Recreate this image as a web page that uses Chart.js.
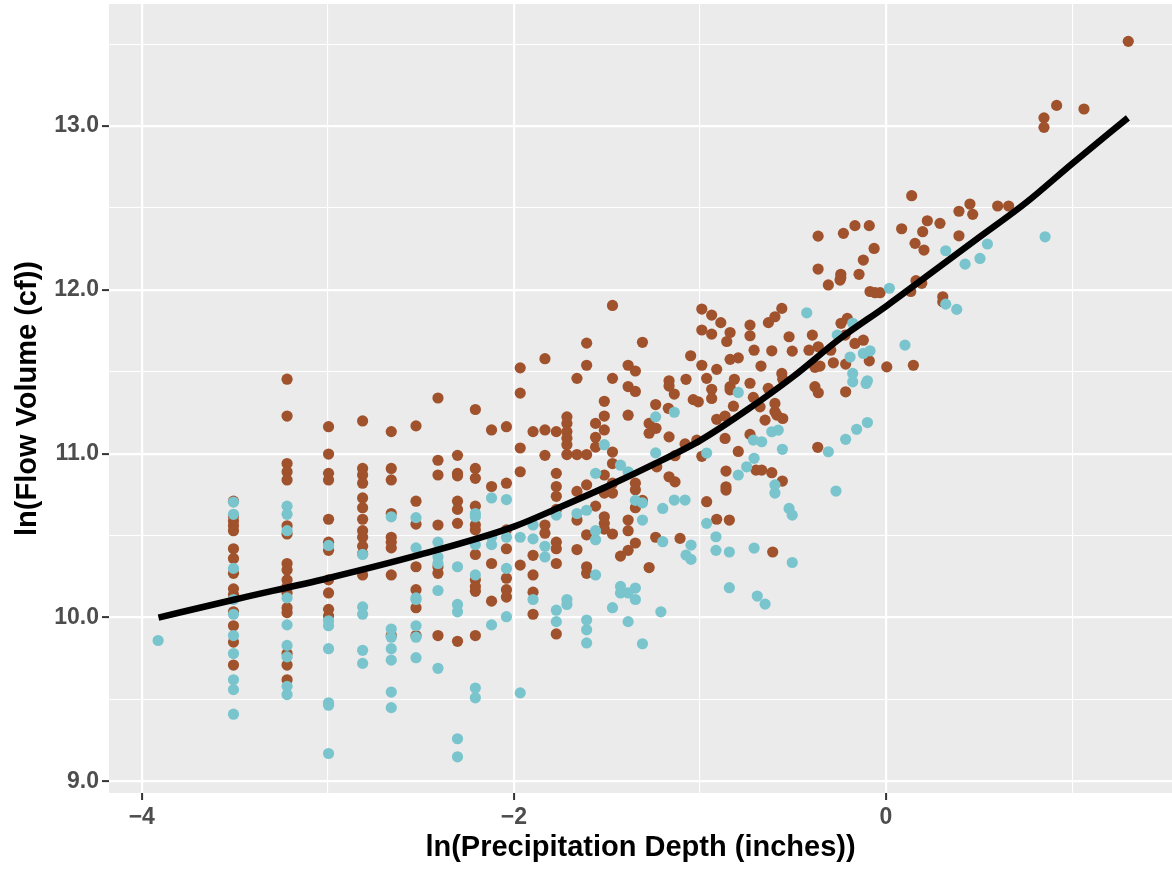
<!DOCTYPE html>
<html><head><meta charset="utf-8">
<script src="https://cdn.jsdelivr.net/npm/chart.js@4.4.0/dist/chart.umd.min.js"></script>
<style>html,body{margin:0;padding:0;background:#fff;}</style>
</head><body>
<canvas id="c" width="1172" height="871"></canvas>
<script>
// ---- data ----
const xTitle = 'ln(Precipitation Depth (inches))';
const yTitle = 'ln(Flow Volume (cf))';
const xMajorTicks = [-4, -2, 0];
const xTickLabels = ['\u22124', '\u22122', '0'];
const xMinorTicks = [-3, -1, 1];
const yMajorTicks = [9, 10, 11, 12, 13];
const yTickLabels = ['9.0', '10.0', '11.0', '12.0', '13.0'];
const yMinorTicks = [9.5, 10.5, 11.5, 12.5, 13.5];

// brown series: values on discrete precipitation columns
const brownColX = [-3.507, -3.219, -2.996, -2.813, -2.659, -2.526, -2.408, -2.303, -2.207, -2.120, -2.040, -1.966, -1.897, -1.833, -1.772, -1.715, -1.661, -1.609, -1.561, -1.514, -1.470, -1.427, -1.386, -1.347, -1.309, -1.273, -1.238];
const brownColY = [
  [10.71, 10.62, 10.59, 10.56, 10.53, 10.42, 10.36, 10.27, 10.175, 10.14, 10.035, 9.95, 9.85, 9.71],
  [11.455, 11.23, 10.94, 10.89, 10.84, 10.56, 10.51, 10.33, 10.29, 10.23, 10.19, 10.15, 10.06, 10.03, 9.78, 9.71, 9.62],
  [11.165, 10.998, 10.88, 10.84, 10.60, 10.46, 10.41, 10.23, 10.15, 10.05, 10.01],
  [11.20, 10.91, 10.87, 10.82, 10.73, 10.67, 10.60, 10.53, 10.49, 10.435, 10.39, 10.26],
  [11.135, 10.91, 10.84, 10.635, 10.49, 10.46, 10.425, 10.26, 9.89],
  [11.17, 10.71, 10.57, 10.31, 10.17, 10.06, 9.89],
  [11.34, 10.96, 10.87, 10.565, 10.31, 10.27, 9.89],
  [10.99, 10.88, 10.865, 10.71, 10.66, 10.575, 9.855],
  [11.27, 10.91, 10.85, 10.68, 10.565, 10.535, 10.385, 10.23, 10.19, 10.16, 9.89],
  [11.145, 10.80, 10.33, 10.10],
  [11.165, 10.82, 10.535, 10.42, 10.24, 10.17, 10.125],
  [11.524, 11.37, 11.035, 10.89, 10.32],
  [11.135, 10.38, 10.26, 10.155, 10.02],
  [11.58, 11.145, 10.99, 10.565, 10.515],
  [11.135, 10.88, 10.80, 10.74, 10.66, 10.46, 10.42, 10.33, 9.90],
  [11.225, 11.185, 11.135, 11.095, 11.055, 10.995],
  [11.46, 10.995, 10.77, 10.595, 10.415],
  [11.675, 11.54, 10.995, 10.81, 10.505, 10.31, 10.27],
  [11.185, 11.10, 11.04, 10.68],
  [11.32, 11.23, 11.145, 10.87, 10.76, 10.615, 10.575, 10.54],
  [11.905, 11.46, 11.01, 10.94, 10.82, 10.76, 10.51],
  [10.375],
  [11.54, 11.41, 11.235, 10.595, 10.53, 10.41],
  [11.505, 11.38, 10.82, 10.78, 10.67, 10.455],
  [11.68, 10.715],
  [11.185, 11.125, 10.305],
  [11.30, 10.49]
];
// brown series: remaining points
const brownX = [
  -0.99, -0.937, -0.888, -0.99, -0.937, -0.838, -0.856, -0.731, -0.731, -0.632,
  -0.597, -0.709, -0.614, -0.672, -1.05, -0.99, -0.91, -0.838, -0.794, -1.166,
  -1.166, -1.075, -0.964, -1.138, -1.036, -1.009, -0.937, -0.937, -0.838, -0.815,
  -0.838, -0.731, -0.82, -0.713, -0.677, -0.597, -0.65, -0.597, -1.17, -1.236,
  -1.166, -0.91, -0.865, -0.865, -0.794, -0.731, -1.08, -1.017, -0.99, -1.134,
  -1.232, -0.699, -0.668, -0.614, -0.86, -0.86, -0.86, -1.166, -1.134, -0.964,
  -0.91, -0.842, -1.107, -0.609,
  -0.31, -0.247, -0.086, -0.059, -0.032, -0.56, -0.208, -0.242, -0.22, -0.521,
  -0.396, -0.504, -0.414, -0.364, -0.297, -0.167, -0.122, -0.09, 0.004, -0.355,
  -0.382, -0.283, -0.217, -0.56, -0.555, -0.382, -0.364, -0.217, -0.633, -0.587,
  -0.555, -0.367, -0.557,
  0.138, -0.365, -0.229, -0.167, -0.09, 0.084, 0.222, 0.197, 0.29, 0.392,
  0.451, 0.466, 0.60, 0.659, 0.392, -0.064, 0.156, 0.204, -0.365, -0.122,
  -0.243, -0.243, -0.145, 0.161, 0.192, 0.133, 0.305, 0.305, 0.147,
  1.302, 0.917, 1.064, 0.849, 0.849
];
const brownY = [
  11.883, 11.846, 11.80, 11.755, 11.73, 11.74, 11.685, 11.785, 11.72, 11.80,
  11.836, 11.632, 11.628, 11.535, 11.598, 11.54, 11.515, 11.576, 11.585, 11.445,
  11.413, 11.454, 11.46, 11.364, 11.33, 11.317, 11.393, 11.337, 11.409, 11.454,
  11.39, 11.43, 11.29, 11.344, 11.286, 11.307, 11.205, 11.257, 11.277, 11.155,
  11.103, 11.21, 11.23, 11.093, 11.014, 11.118, 11.06, 11.083, 10.984, 10.988,
  10.92, 10.90, 10.90, 10.884, 10.894, 10.798, 10.778, 10.859, 10.828, 10.707,
  10.60, 10.595, 10.483, 10.40,
  12.03, 12.06, 11.99, 11.983, 11.983, 11.887, 11.826, 11.796, 11.724, 11.714,
  11.724, 11.626, 11.632, 11.653, 11.632, 11.673, 11.693, 11.567, 11.53, 11.535,
  11.527, 11.555, 11.547, 11.49, 11.454, 11.409, 11.372, 11.378, 11.399, 11.236,
  11.215, 11.039, 10.833,
  12.575, 12.328, 12.345, 12.392, 12.392, 12.373, 12.422, 12.355, 12.406, 12.48,
  12.524, 12.461, 12.512, 12.512, 12.33, 12.253, 12.284, 12.243, 12.127, 12.182,
  12.095, 12.074, 12.095, 12.056, 12.04, 11.99, 11.958, 11.927, 11.54,
  13.517, 13.126, 13.104, 13.05, 12.992
];

// teal series: values on discrete precipitation columns
const tealColX = [-3.912, -3.507, -3.219, -2.996, -2.813, -2.659, -2.526, -2.408, -2.303, -2.207, -2.120, -2.040, -1.966, -1.897, -1.833, -1.772, -1.715, -1.661, -1.609, -1.561, -1.514, -1.470, -1.427, -1.386, -1.347, -1.309, -1.238];
const tealColY = [
  [9.86],
  [10.705, 10.63, 10.30, 10.11, 10.02, 9.89, 9.78, 9.62, 9.56, 9.41],
  [10.68, 10.63, 10.53, 10.12, 9.955, 9.83, 9.76, 9.58, 9.53],
  [10.44, 9.98, 9.95, 9.81, 9.48, 9.465, 9.17],
  [10.385, 10.065, 10.02, 9.80, 9.72],
  [10.615, 9.93, 9.88, 9.81, 9.74, 9.545, 9.45],
  [10.61, 10.425, 10.12, 10.11, 9.95, 9.88, 9.755],
  [10.46, 10.37, 10.33, 10.165, 9.69],
  [10.31, 10.08, 10.035, 9.26, 9.15],
  [10.635, 10.615, 10.445, 10.26, 9.57, 9.51],
  [10.73, 10.49, 10.445, 9.955],
  [10.72, 10.49, 10.30, 10.005],
  [10.49, 9.54],
  [10.565, 10.48, 10.11],
  [10.435, 10.37],
  [10.625, 10.045, 9.975],
  [10.11, 10.08],
  [10.635],
  [10.655, 9.985, 9.925, 9.845],
  [10.88, 10.53, 10.475, 10.26],
  [11.055],
  [10.06],
  [10.93, 10.19, 10.15],
  [10.89, 10.15, 9.975],
  [10.715, 10.18, 10.11],
  [10.70, 10.595, 9.84],
  [11.225, 11.005]
];
// teal series: remaining points
const tealX = [
  -1.138, -0.794, -0.713, -0.668, -0.614, -0.579, -0.964, -0.709, -0.749, -0.794,
  -0.597, -0.597, -1.138, -1.08, -1.20, -0.964, -0.914, -0.914, -0.842, -1.20,
  -1.21, -1.048, -1.075, -1.048, -0.709, -0.842, -0.692, -0.65,
  0.018, -0.426, -0.179, -0.262, -0.193, -0.122, -0.086, -0.179, -0.179, -0.107,
  -0.10, -0.557, -0.31, -0.217, -0.158, -0.10, -0.269, -0.521, -0.504, -0.504,
  0.321, 0.545, 0.855, 0.425, 0.505, 0.321, 0.38, 0.102
];
const tealY = [
  11.253, 11.374, 11.083, 11.073, 11.134, 11.144, 11.004, 10.972, 10.92, 10.87,
  10.81, 10.76, 10.717, 10.717, 10.666, 10.575, 10.493, 10.41, 10.40, 10.463,
  10.035, 10.442, 10.381, 10.355, 10.424, 10.182, 10.131, 10.082,
  12.01, 11.86, 11.796, 11.724, 11.59, 11.612, 11.628, 11.49, 11.439, 11.429,
  11.445, 11.027, 11.012, 11.088, 11.149, 11.19, 10.772, 10.666, 10.625, 10.336,
  12.239, 12.28, 12.324, 12.157, 12.192, 11.913, 11.881, 11.663
];

// smooth fit line
const fitX = [-3.91, -3.5, -3.0, -2.5, -2.0, -1.75, -1.5, -1.25, -1.0, -0.75, -0.5, -0.25, 0, 0.25, 0.5, 0.75, 1.0, 1.30];
const fitY = [10.00, 10.11, 10.24, 10.385, 10.555, 10.675, 10.80, 10.935, 11.08, 11.265, 11.47, 11.70, 11.90, 12.11, 12.32, 12.53, 12.77, 13.05];

// ---- build ----
const brownPts = [];
brownColX.forEach((x, i) => brownColY[i].forEach(y => brownPts.push({x, y})));
brownX.forEach((x, i) => brownPts.push({x, y: brownY[i]}));
const tealPts = [];
tealColX.forEach((x, i) => tealColY[i].forEach(y => tealPts.push({x, y})));
tealX.forEach((x, i) => tealPts.push({x, y: tealY[i]}));
const fitPts = fitX.map((x, i) => ({x, y: fitY[i]}));

const FAMILY = '"Liberation Sans", Arial, Helvetica, sans-serif';
const near = (a, b) => Math.abs(a - b) < 1e-6;
const idxIn = (arr, v) => arr.findIndex(a => near(a, v));

const bgPlugin = {
  id: 'bg',
  beforeDraw(chart) {
    const {ctx, chartArea: a} = chart;
    ctx.save();
    ctx.fillStyle = '#FFFFFF';
    ctx.fillRect(0, 0, chart.width, chart.height);
    ctx.fillStyle = '#EBEBEB';
    ctx.fillRect(a.left, a.top, a.right - a.left, a.bottom - a.top);
    ctx.restore();
  }
};

new Chart(document.getElementById('c'), {
  type: 'scatter',
  data: {
    datasets: [
      { label: 'fit', type: 'line', data: fitPts, borderColor: '#000000', borderWidth: 6.5,
        pointRadius: 0, fill: false, cubicInterpolationMode: 'monotone', order: 0 },
      { label: 'teal', data: tealPts, backgroundColor: '#7AC5CD', borderWidth: 0,
        pointRadius: 5.6, pointHoverRadius: 5.6, order: 1 },
      { label: 'brown', data: brownPts, backgroundColor: '#A0522D', borderWidth: 0,
        pointRadius: 5.6, pointHoverRadius: 5.6, order: 2 }
    ]
  },
  options: {
    responsive: false,
    animation: false,
    devicePixelRatio: 1,
    layout: { autoPadding: false, padding: { top: 4, right: 0, bottom: 0, left: 0 } },
    plugins: { legend: { display: false }, tooltip: { enabled: false } },
    scales: {
      x: {
        type: 'linear', min: -4.176, max: 1.537,
        afterBuildTicks: s => { s.ticks = xMajorTicks.concat(xMinorTicks).sort((a, b) => a - b).map(v => ({value: v})); },
        afterFit: s => { s.height = 78; s.paddingLeft = 0; s.paddingRight = 0; },
        border: { display: false },
        grid: {
          color: '#FFFFFF',
          lineWidth: c => (c.tick && idxIn(xMajorTicks, c.tick.value) >= 0) ? 2.2 : 1.1,
          tickColor: c => (c.tick && idxIn(xMajorTicks, c.tick.value) >= 0) ? '#333333' : 'rgba(0,0,0,0)',
          tickWidth: 2, tickLength: 7
        },
        ticks: {
          autoSkip: false, maxRotation: 0, padding: 4, color: '#4D4D4D',
          font: { family: FAMILY, size: 23, weight: 'bold' },
          callback: v => { const i = idxIn(xMajorTicks, v); return i >= 0 ? xTickLabels[i] : ''; }
        },
        title: { display: true, text: xTitle, color: '#000000',
          font: { family: FAMILY, size: 29, weight: 'bold' }, padding: { top: 0, bottom: 6 } }
      },
      y: {
        type: 'linear', min: 8.929, max: 13.745,
        afterBuildTicks: s => { s.ticks = yMajorTicks.concat(yMinorTicks).sort((a, b) => a - b).map(v => ({value: v})); },
        afterFit: s => { s.width = 109; s.paddingTop = 0; s.paddingBottom = 0; },
        border: { display: false },
        grid: {
          color: '#FFFFFF',
          lineWidth: c => (c.tick && idxIn(yMajorTicks, c.tick.value) >= 0) ? 2.2 : 1.1,
          tickColor: c => (c.tick && idxIn(yMajorTicks, c.tick.value) >= 0) ? '#333333' : 'rgba(0,0,0,0)',
          tickWidth: 2, tickLength: 7
        },
        ticks: {
          autoSkip: false, padding: 3, color: '#4D4D4D',
          font: { family: FAMILY, size: 23, weight: 'bold' },
          callback: v => { const i = idxIn(yMajorTicks, v); return i >= 0 ? yTickLabels[i] : ''; }
        },
        title: { display: true, text: yTitle, color: '#000000',
          font: { family: FAMILY, size: 29, weight: 'bold' }, padding: { top: 11, bottom: 0 } }
      }
    }
  },
  plugins: [bgPlugin]
});
</script>
</body></html>
